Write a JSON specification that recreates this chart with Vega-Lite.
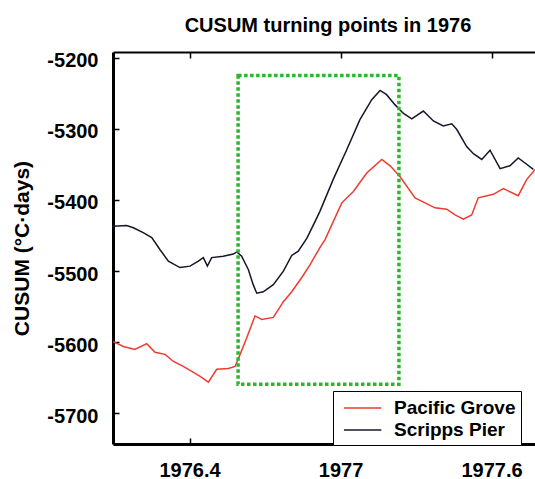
{
  "$schema": "https://vega.github.io/schema/vega-lite/v6.json",
  "width": 422,
  "height": 392,
  "autosize": {"type": "none"},
  "padding": {"left": 113, "top": 52, "right": 0, "bottom": 35},
  "background": "white",
  "title": {
    "text": "CUSUM turning points in 1976",
    "fontSize": 20,
    "font": "Liberation Sans",
    "fontWeight": "bold",
    "color": "black",
    "anchor": "middle",
    "baseline": "alphabetic",
    "offset": 19,
    "dx": 4,
    "dy": 20
  },
  "config": {
    "view": {"stroke": null},
    "font": "Liberation Sans"
  },
  "datasets": {
    "series": [
      {"x": 1976.097, "y": -5437, "site": "Scripps Pier"},
      {"x": 1976.150, "y": -5436, "site": "Scripps Pier"},
      {"x": 1976.177, "y": -5439, "site": "Scripps Pier"},
      {"x": 1976.216, "y": -5446, "site": "Scripps Pier"},
      {"x": 1976.250, "y": -5453, "site": "Scripps Pier"},
      {"x": 1976.283, "y": -5470, "site": "Scripps Pier"},
      {"x": 1976.316, "y": -5486, "site": "Scripps Pier"},
      {"x": 1976.362, "y": -5495, "site": "Scripps Pier"},
      {"x": 1976.402, "y": -5493, "site": "Scripps Pier"},
      {"x": 1976.435, "y": -5486, "site": "Scripps Pier"},
      {"x": 1976.455, "y": -5481, "site": "Scripps Pier"},
      {"x": 1976.471, "y": -5493, "site": "Scripps Pier"},
      {"x": 1976.488, "y": -5481, "site": "Scripps Pier"},
      {"x": 1976.534, "y": -5479, "site": "Scripps Pier"},
      {"x": 1976.574, "y": -5476, "site": "Scripps Pier"},
      {"x": 1976.588, "y": -5473, "site": "Scripps Pier"},
      {"x": 1976.607, "y": -5479, "site": "Scripps Pier"},
      {"x": 1976.634, "y": -5498, "site": "Scripps Pier"},
      {"x": 1976.653, "y": -5519, "site": "Scripps Pier"},
      {"x": 1976.667, "y": -5531, "site": "Scripps Pier"},
      {"x": 1976.693, "y": -5529, "site": "Scripps Pier"},
      {"x": 1976.733, "y": -5519, "site": "Scripps Pier"},
      {"x": 1976.773, "y": -5500, "site": "Scripps Pier"},
      {"x": 1976.806, "y": -5478, "site": "Scripps Pier"},
      {"x": 1976.832, "y": -5472, "site": "Scripps Pier"},
      {"x": 1976.866, "y": -5454, "site": "Scripps Pier"},
      {"x": 1976.899, "y": -5430, "site": "Scripps Pier"},
      {"x": 1976.918, "y": -5416, "site": "Scripps Pier"},
      {"x": 1976.971, "y": -5371, "site": "Scripps Pier"},
      {"x": 1977.025, "y": -5329, "site": "Scripps Pier"},
      {"x": 1977.077, "y": -5287, "site": "Scripps Pier"},
      {"x": 1977.124, "y": -5259, "site": "Scripps Pier"},
      {"x": 1977.157, "y": -5246, "site": "Scripps Pier"},
      {"x": 1977.183, "y": -5252, "site": "Scripps Pier"},
      {"x": 1977.216, "y": -5266, "site": "Scripps Pier"},
      {"x": 1977.249, "y": -5278, "site": "Scripps Pier"},
      {"x": 1977.283, "y": -5286, "site": "Scripps Pier"},
      {"x": 1977.329, "y": -5275, "site": "Scripps Pier"},
      {"x": 1977.369, "y": -5289, "site": "Scripps Pier"},
      {"x": 1977.408, "y": -5296, "site": "Scripps Pier"},
      {"x": 1977.442, "y": -5293, "site": "Scripps Pier"},
      {"x": 1977.462, "y": -5301, "site": "Scripps Pier"},
      {"x": 1977.501, "y": -5325, "site": "Scripps Pier"},
      {"x": 1977.528, "y": -5335, "site": "Scripps Pier"},
      {"x": 1977.561, "y": -5343, "site": "Scripps Pier"},
      {"x": 1977.594, "y": -5330, "site": "Scripps Pier"},
      {"x": 1977.634, "y": -5356, "site": "Scripps Pier"},
      {"x": 1977.673, "y": -5352, "site": "Scripps Pier"},
      {"x": 1977.706, "y": -5341, "site": "Scripps Pier"},
      {"x": 1977.733, "y": -5348, "site": "Scripps Pier"},
      {"x": 1977.766, "y": -5357, "site": "Scripps Pier"},
      {"x": 1976.097, "y": -5599, "site": "Pacific Grove"},
      {"x": 1976.137, "y": -5606, "site": "Pacific Grove"},
      {"x": 1976.183, "y": -5610, "site": "Pacific Grove"},
      {"x": 1976.230, "y": -5602, "site": "Pacific Grove"},
      {"x": 1976.263, "y": -5614, "site": "Pacific Grove"},
      {"x": 1976.303, "y": -5617, "site": "Pacific Grove"},
      {"x": 1976.336, "y": -5627, "site": "Pacific Grove"},
      {"x": 1976.375, "y": -5634, "site": "Pacific Grove"},
      {"x": 1976.409, "y": -5641, "site": "Pacific Grove"},
      {"x": 1976.442, "y": -5648, "site": "Pacific Grove"},
      {"x": 1976.475, "y": -5656, "site": "Pacific Grove"},
      {"x": 1976.508, "y": -5638, "site": "Pacific Grove"},
      {"x": 1976.554, "y": -5637, "site": "Pacific Grove"},
      {"x": 1976.581, "y": -5634, "site": "Pacific Grove"},
      {"x": 1976.601, "y": -5617, "site": "Pacific Grove"},
      {"x": 1976.627, "y": -5594, "site": "Pacific Grove"},
      {"x": 1976.660, "y": -5563, "site": "Pacific Grove"},
      {"x": 1976.687, "y": -5568, "site": "Pacific Grove"},
      {"x": 1976.733, "y": -5565, "site": "Pacific Grove"},
      {"x": 1976.773, "y": -5543, "site": "Pacific Grove"},
      {"x": 1976.806, "y": -5529, "site": "Pacific Grove"},
      {"x": 1976.846, "y": -5509, "site": "Pacific Grove"},
      {"x": 1976.879, "y": -5491, "site": "Pacific Grove"},
      {"x": 1976.918, "y": -5467, "site": "Pacific Grove"},
      {"x": 1976.938, "y": -5456, "site": "Pacific Grove"},
      {"x": 1977.005, "y": -5404, "site": "Pacific Grove"},
      {"x": 1977.051, "y": -5388, "site": "Pacific Grove"},
      {"x": 1977.104, "y": -5362, "site": "Pacific Grove"},
      {"x": 1977.164, "y": -5343, "site": "Pacific Grove"},
      {"x": 1977.197, "y": -5352, "site": "Pacific Grove"},
      {"x": 1977.236, "y": -5367, "site": "Pacific Grove"},
      {"x": 1977.296, "y": -5397, "site": "Pacific Grove"},
      {"x": 1977.336, "y": -5404, "site": "Pacific Grove"},
      {"x": 1977.375, "y": -5411, "site": "Pacific Grove"},
      {"x": 1977.422, "y": -5413, "site": "Pacific Grove"},
      {"x": 1977.455, "y": -5421, "site": "Pacific Grove"},
      {"x": 1977.488, "y": -5427, "site": "Pacific Grove"},
      {"x": 1977.521, "y": -5421, "site": "Pacific Grove"},
      {"x": 1977.547, "y": -5397, "site": "Pacific Grove"},
      {"x": 1977.607, "y": -5392, "site": "Pacific Grove"},
      {"x": 1977.647, "y": -5384, "site": "Pacific Grove"},
      {"x": 1977.706, "y": -5394, "site": "Pacific Grove"},
      {"x": 1977.740, "y": -5371, "site": "Pacific Grove"},
      {"x": 1977.773, "y": -5357, "site": "Pacific Grove"}
    ],
    "box": [
      {"x1": 1976.593, "x2": 1977.232, "y1": -5225, "y2": -5659}
    ]
  },
  "resolve": {"axis": {"x": "independent", "y": "independent"}},
  "layer": [
    {
      "data": {"name": "series"},
      "mark": {"type": "line", "strokeWidth": 1.5, "clip": true},
      "encoding": {
        "x": {
          "field": "x", "type": "quantitative",
          "scale": {"domain": [1976.096, 1977.7726], "nice": false, "zero": false},
          "axis": {
            "orient": "bottom", "title": null, "grid": false,
            "values": [1976.4, 1977, 1977.6],
            "labelExpr": "'' + datum.value",
            "domainColor": "black", "domainWidth": 3,
            "tickColor": "black", "tickWidth": 1.5, "tickSize": -6,
            "labelFontSize": 20, "labelFontWeight": "bold", "labelColor": "black",
            "labelPadding": 22, "labelFlush": false
          }
        },
        "y": {
          "field": "y", "type": "quantitative",
          "scale": {"domain": [-5743, -5192], "nice": false, "zero": false},
          "axis": {
            "orient": "left", "grid": false,
            "values": [-5200, -5300, -5400, -5500, -5600, -5700],
            "labelExpr": "'' + datum.value",
            "domainColor": "black", "domainWidth": 3,
            "tickColor": "black", "tickWidth": 1.5, "tickSize": -6,
            "labelFontSize": 20, "labelFontWeight": "bold", "labelColor": "black",
            "labelPadding": 21, "labelOffset": 3, "labelFlush": false,
            "title": "CUSUM  (°C·days)",
            "titleFontSize": 21, "titleFontWeight": "bold", "titleColor": "black",
            "titleAngle": -90, "titleX": -91, "titleY": 196,
            "titleAlign": "center", "titleBaseline": "middle"
          }
        },
        "color": {
          "field": "site", "type": "nominal",
          "scale": {"domain": ["Pacific Grove", "Scripps Pier"], "range": ["#ee3b2f", "#16162a"]},
          "legend": {
            "title": null,
            "orient": "none", "legendX": 220, "legendY": 339,
            "strokeColor": "black", "fillColor": "white",
            "padding": 5, "rowPadding": 0,
            "symbolType": "M-0.55,0H2.85", "symbolSize": 484, "symbolStrokeWidth": 1.5,
            "labelFontSize": 19, "labelFontWeight": "bold", "labelColor": "black",
            "labelOffset": 32, "labelLimit": 300,
            "labelExpr": "datum.label + '\u00a0\u00a0'"
          }
        }
      }
    },
    {
      "data": {"name": "box"},
      "mark": {"type": "rect", "filled": false, "stroke": "#2db52d", "strokeWidth": 3.5, "strokeDash": [3.5, 2.5], "clip": true},
      "encoding": {
        "x": {
          "field": "x1", "type": "quantitative",
          "axis": {
            "orient": "top", "title": null, "labels": false, "grid": false,
            "values": [1976.4, 1977, 1977.6],
            "domainColor": "black", "domainWidth": 2,
            "tickColor": "black", "tickWidth": 1.5, "tickSize": -6
          }
        },
        "x2": {"field": "x2"},
        "y": {"field": "y1", "type": "quantitative", "axis": null},
        "y2": {"field": "y2"}
      }
    }
  ]
}
